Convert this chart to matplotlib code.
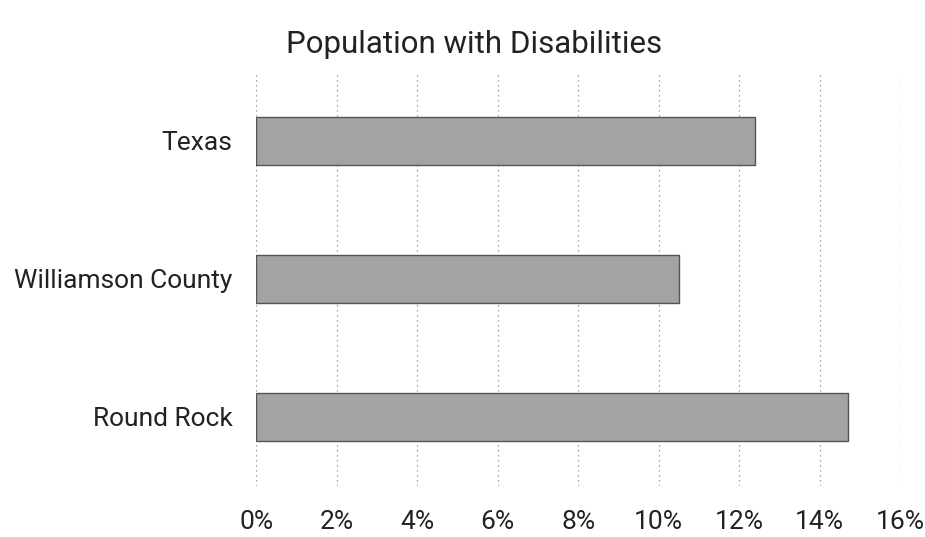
import matplotlib
matplotlib.use("Agg")
from matplotlib import pyplot as plt

places = ["Texas", "Williamson County", "Round Rock"]
pct_disabled = [12.4, 10.5, 14.7]
xticks = [0, 2, 4, 6, 8, 10, 12, 14, 16]

plt.rcParams["font.family"] = ["Roboto", "DejaVu Sans"]

fig = plt.figure(figsize=(9.25, 5.37), dpi=100)
ax = fig.add_axes([0.277, 0.095, 0.696, 0.771])

ypos = list(range(len(places)))
ax.barh(ypos, pct_disabled, height=0.35, color="#a3a3a3",
        edgecolor="#555555", linewidth=1.0, zorder=3)

ax.set_yticks(ypos)
ax.set_yticklabels(places, fontsize=19, color="#222222")
ax.set_ylim(len(places) - 0.5, -0.5)

ax.set_xlim(0, 16)
ax.set_xticks(xticks)
ax.set_xticklabels([f"{t}%" for t in xticks], fontsize=19, color="#222222")

ax.grid(axis="x", linestyle=(0, (1, 3)), color="#888888", linewidth=0.9, zorder=0)
for s in ax.spines.values():
    s.set_visible(False)
ax.tick_params(axis="both", length=0)
ax.tick_params(axis="x", pad=17)
ax.tick_params(axis="y", pad=17)

fig.suptitle("Population with Disabilities", fontsize=22.5, color="#222222",
             x=0.513, y=0.945)

fig.savefig("out.png", dpi=100)
